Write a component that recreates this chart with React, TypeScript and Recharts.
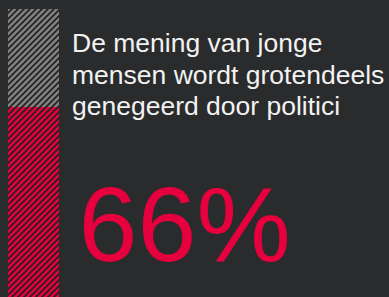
import { Bar, BarChart, XAxis, YAxis } from 'recharts';

const categories = ['jongeren'];
const agreeValues = [66];
const restValues = [34];
const headlineLines = ['De mening van jonge', 'mensen wordt grotendeels', 'genegeerd door politici'];
const valueLabel = '66%';

const BG = '#2a2b2d';
const RED = '#e6003d';
const GREY = '#808080';

const data = categories.map((c, i) => ({ name: c, agree: agreeValues[i], rest: restValues[i] }));

export default function App() {
  return (
    <div style={{ position: 'relative', width: 389, height: 297, background: BG, overflow: 'hidden' }}>
      <style>{`body{margin:0;background:${BG};}`}</style>
      <BarChart
        width={389}
        height={297}
        data={data}
        margin={{ top: 9, right: 330, left: 8, bottom: 0 }}
        barCategoryGap={0}
      >
        <defs>
          <pattern id="hatchRed" patternUnits="userSpaceOnUse" width={6} height={6}>
            <rect width={6} height={6} fill="#212121" />
            <path d="M-1,7 L7,-1 M-1,1 L1,-1 M5,7 L7,5" stroke={RED} strokeWidth={2.6} />
          </pattern>
          <pattern id="hatchGrey" patternUnits="userSpaceOnUse" width={6} height={6}>
            <rect width={6} height={6} fill="#212121" />
            <path d="M-1,7 L7,-1 M-1,1 L1,-1 M5,7 L7,5" stroke={GREY} strokeWidth={2.6} />
          </pattern>
        </defs>
        <XAxis dataKey="name" hide />
        <YAxis hide domain={[0, 100]} />
        <Bar dataKey="agree" stackId="a" fill="url(#hatchRed)" isAnimationActive={false} />
        <Bar dataKey="rest" stackId="a" fill="url(#hatchGrey)" isAnimationActive={false} />
      </BarChart>
      <div
        style={{
          position: 'absolute',
          left: 72,
          top: 28,
          fontFamily: '"Liberation Sans", Arial, sans-serif',
          fontSize: 26.5,
          lineHeight: '31.6px',
          color: '#f2f2f2',
          whiteSpace: 'nowrap',
        }}
      >
        {headlineLines.map((l) => (
          <div key={l}>{l}</div>
        ))}
      </div>
      <div
        style={{
          position: 'absolute',
          left: 78.5,
          top: 171,
          fontFamily: '"Liberation Sans", Arial, sans-serif',
          fontSize: 106,
          lineHeight: '106px',
          color: RED,
          whiteSpace: 'nowrap',
        }}
      >
        {valueLabel}
      </div>
    </div>
  );
}
